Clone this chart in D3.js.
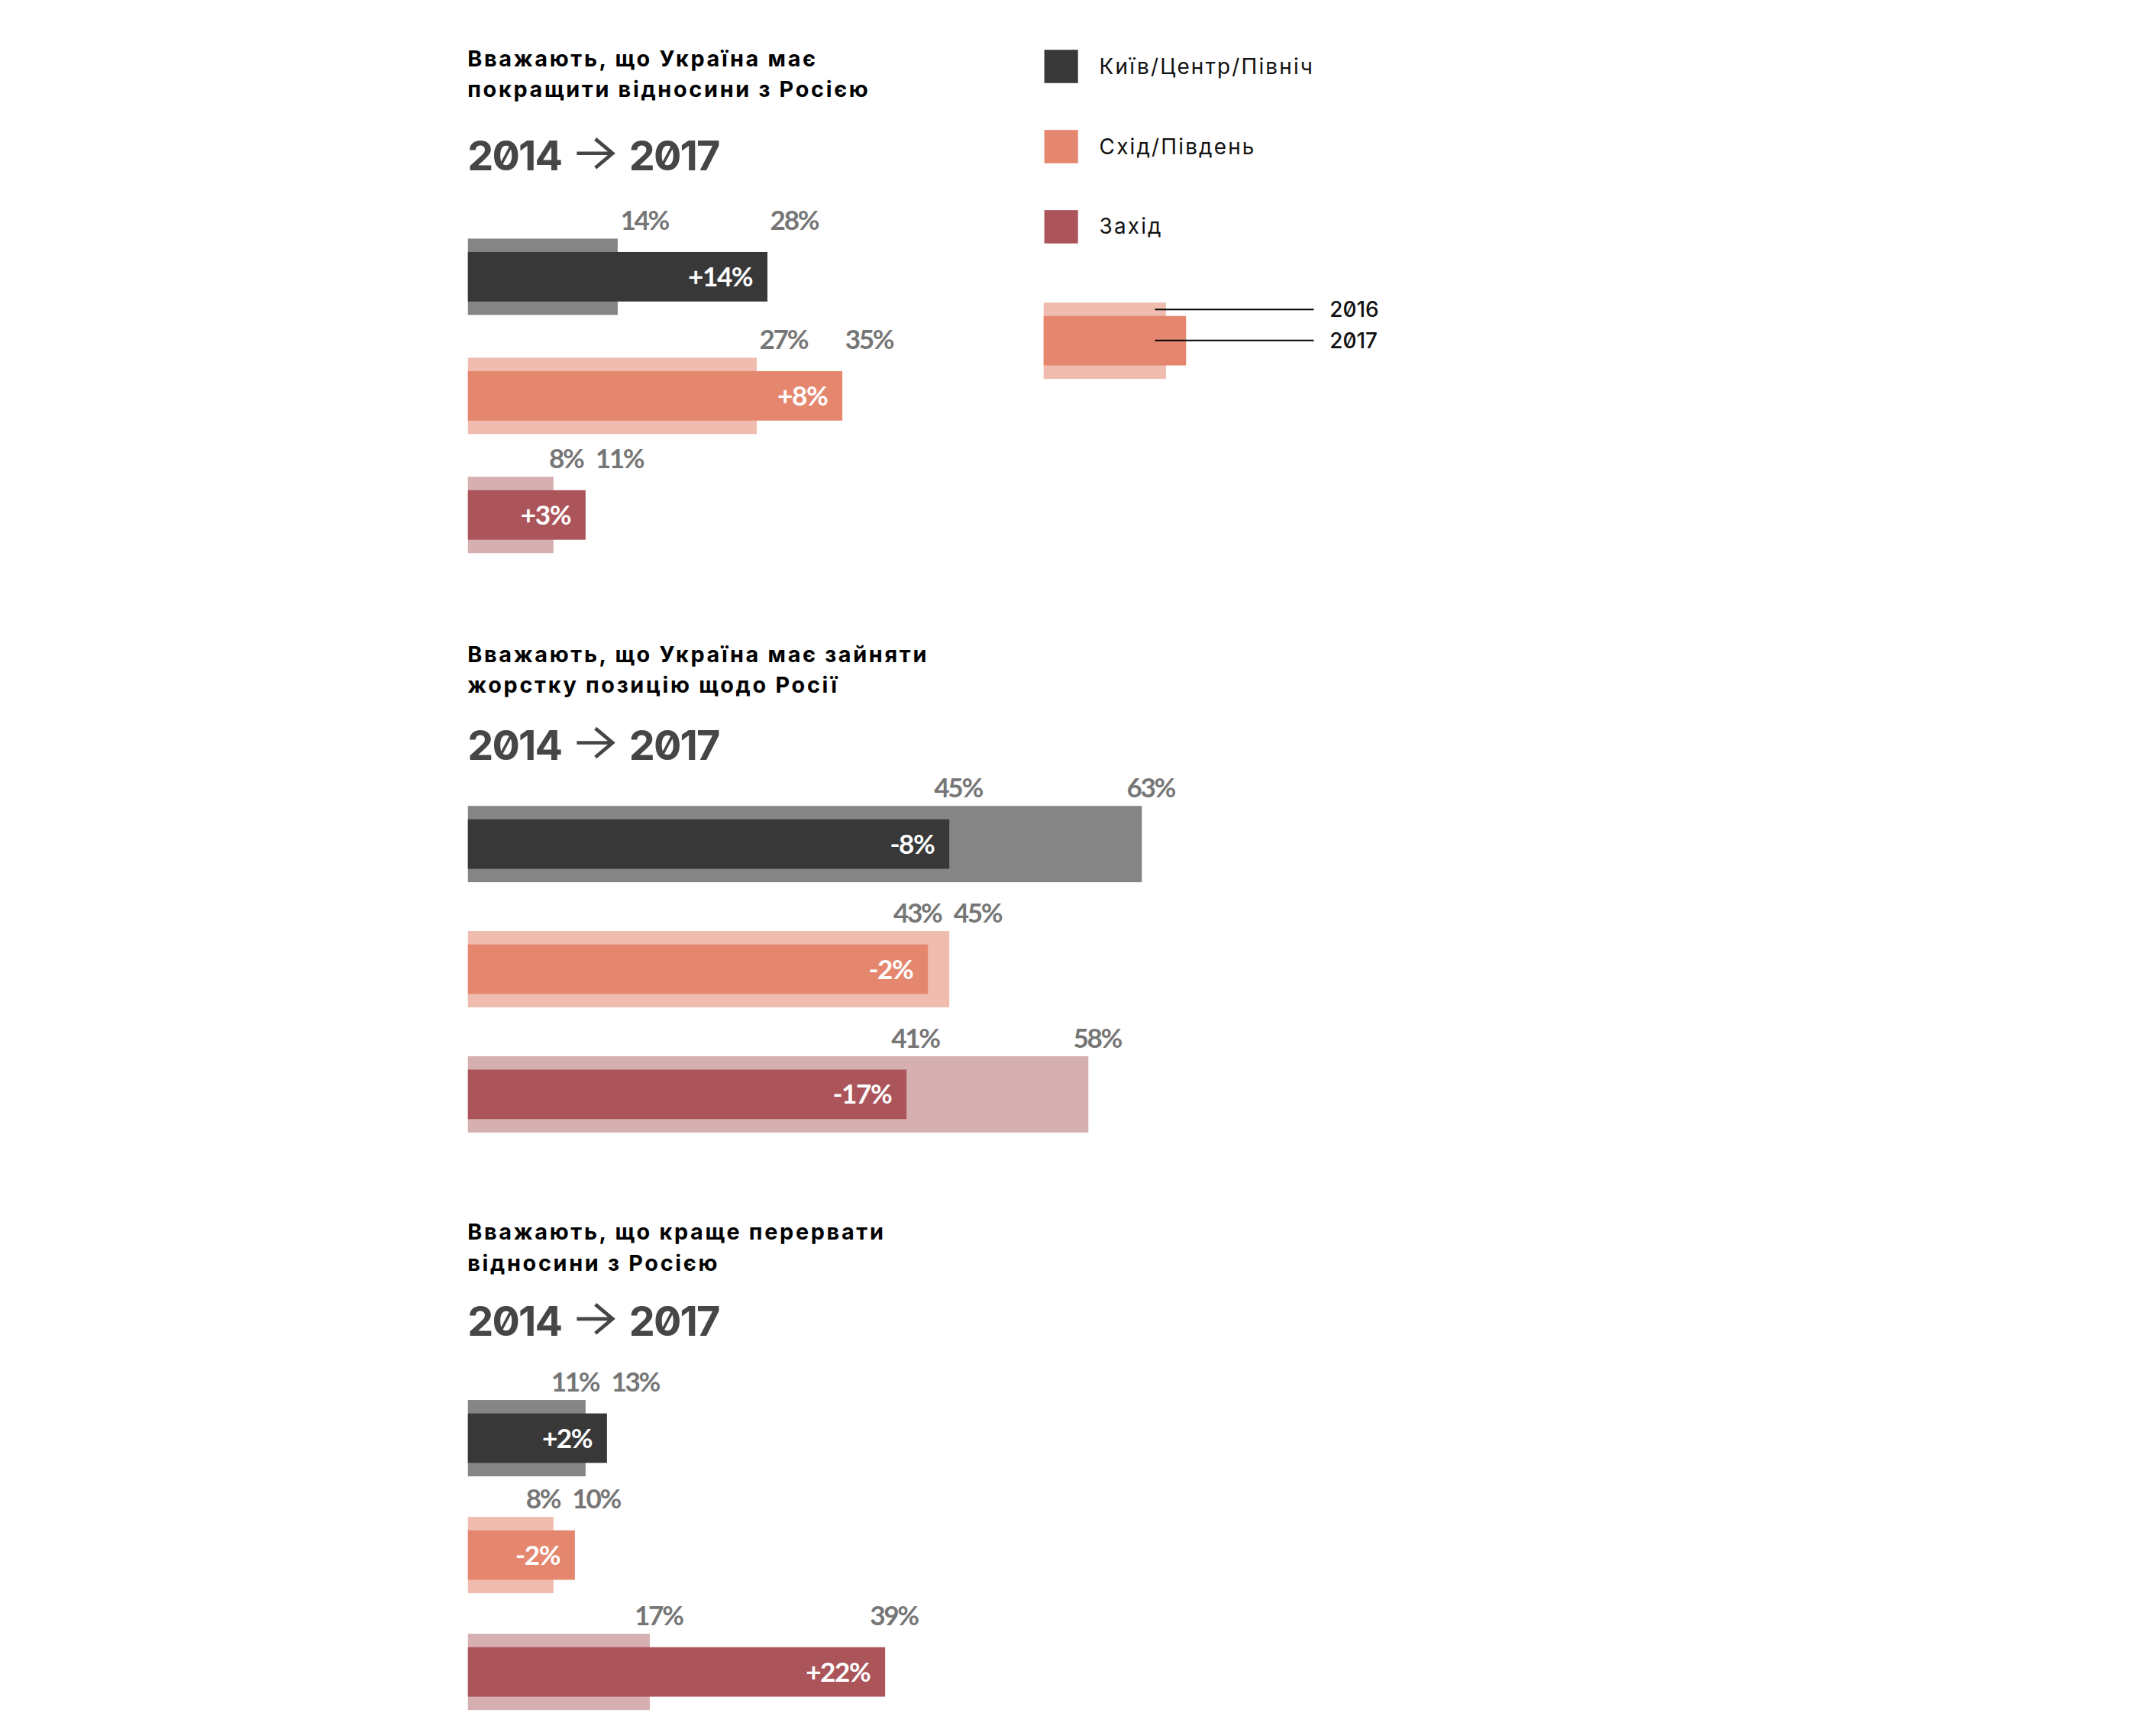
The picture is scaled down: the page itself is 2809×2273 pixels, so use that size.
<!DOCTYPE html>
<html>
<head>
<meta charset="UTF-8">
<title>Ставлення до Росії за регіонами</title>
<script src="https://cdn.jsdelivr.net/npm/d3@7"></script>
<style>
  html, body { margin: 0; padding: 0; background: #fff; }
  svg { display: block; }
  .title { font-family: Inter, "Noto Sans", sans-serif; font-weight: 700; fill: #000; }
  .years { font-family: Inter, "Noto Sans", sans-serif; font-weight: 700; fill: #464646; font-feature-settings: "zero" 1; }
  .val { font-family: Lato, "Open Sans", sans-serif; font-weight: 700; fill: #767676; }
  .chg { font-family: Lato, "Open Sans", sans-serif; font-weight: 700; fill: #fff; }
  .legend { font-family: Inter, "Noto Sans", sans-serif; fill: #111; font-feature-settings: "zero" 1; }
</style>
</head>
<body>
<svg id="chart"></svg>
<script>
// regions (legend order = row order)
var regions = ["Київ/Центр/Північ", "Схід/Південь", "Захід"];
var colors2017 = ["#383838", "#e5876f", "#ab545a"];
var colors2016 = ["#858585", "#efbcaf", "#d6afb1"];

var headingYears = ["2014", "2017"];
var keyYears = ["2016", "2017"];

var titles = [
    ["Вважають, що Україна має", "покращити відносини з Росією"],
    ["Вважають, що Україна має зайняти", "жорстку позицію щодо Росії"],
    ["Вважають, що краще перервати", "відносини з Росією"]
];

// values in %
var improve2016 = [14, 27, 8];
var improve2017 = [28, 35, 11];
var improveChange = [14, 8, 3];

var tough2016 = [63, 45, 58];
var tough2017 = [45, 43, 41];
var toughChange = [-8, -2, -17];

var breakOff2016 = [11, 8, 17];
var breakOff2017 = [13, 10, 39];
var breakOffChange = [2, -2, 22];

var W = 2809, H = 2273, k = W / 1560;

var svg = d3.select("#chart")
    .attr("width", W).attr("height", H)
    .attr("viewBox", "0 0 1560 " + (H / k));

var x = d3.scaleLinear().domain([0, 100]).range([340.3, 340.3 + 778]);

var barH = 55.5, innerH = 36, inset = (barH - innerH) / 2;

// layout of the three blocks
var blocks = [
    {title: titles[0], v16: improve2016, v17: improve2017, chg: improveChange,
     titleY: 48.1, yearY: 124, rowTop: 173.5, step: 86.6, lblOff: 2},
    {title: titles[1], v16: tough2016, v17: tough2017, chg: toughChange,
     titleY: 481.3, yearY: 552.6, rowTop: 586, step: 91, lblOff: -11},
    {title: titles[2], v16: breakOff2016, v17: breakOff2017, chg: breakOffChange,
     titleY: 901.5, yearY: 971.5, rowTop: 1018, step: 85, lblOff: -11}
];

function fmtChange(v) {
    return (v > 0 ? "+" : "") + v + "%";
}

blocks.forEach(function (b) {
    var g = svg.append("g");

    g.selectAll("text.title").data(b.title).enter().append("text")
        .attr("class", "title")
        .attr("x", 340)
        .attr("y", function (d, i) { return b.titleY + i * 22.4; })
        .style("font-size", "16px")
        .style("letter-spacing", "1.5px")
        .text(function (d) { return d; });

    // 2014 -> 2017
    g.append("text").attr("class", "years")
        .attr("x", 340).attr("y", b.yearY)
        .style("font-size", "30px").style("letter-spacing", "-1px")
        .text(headingYears[0]);
    g.append("text").attr("class", "years")
        .attr("x", 457.5).attr("y", b.yearY)
        .style("font-size", "30px").style("letter-spacing", "-1px")
        .text(headingYears[1]);
    var ay = b.yearY - 12.5;
    g.append("path")
        .attr("d", "M419.5," + ay + "H445.5M433," + (ay - 10.5) + "L445.5," + ay + "L433," + (ay + 10.5))
        .attr("fill", "none").attr("stroke", "#464646").attr("stroke-width", 2.6);

    var rows = regions.map(function (r, i) {
        return {region: r, i: i, v16: b.v16[i], v17: b.v17[i], chg: b.chg[i]};
    });
    var y = function (i) { return b.rowTop + i * b.step; };

    var row = g.selectAll("g.row").data(rows).enter().append("g").attr("class", "row");

    row.append("rect")
        .attr("x", x(0)).attr("y", function (d) { return y(d.i); })
        .attr("width", function (d) { return x(d.v16) - x(0); })
        .attr("height", barH)
        .attr("fill", function (d) { return colors2016[d.i]; });

    row.append("rect")
        .attr("x", x(0)).attr("y", function (d) { return y(d.i) + inset; })
        .attr("width", function (d) { return x(d.v17) - x(0); })
        .attr("height", innerH)
        .attr("fill", function (d) { return colors2017[d.i]; });

    row.append("text").attr("class", "chg")
        .attr("x", function (d) { return x(d.v17) - 11; })
        .attr("y", function (d) { return y(d.i) + barH / 2 + 7; })
        .attr("text-anchor", "end")
        .style("font-size", "19.5px").style("letter-spacing", "-0.8px")
        .text(function (d) { return fmtChange(d.chg); });

    // value labels above the bars, pushed apart when they collide
    row.each(function (d) {
        var r = d3.select(this);
        var labels = [d.v16, d.v17].map(function (v) {
            var t = r.append("text").attr("class", "val")
                .attr("y", y(d.i) - 6.3)
                .style("font-size", "19.5px").style("letter-spacing", "-1.3px")
                .text(v + "%");
            var w = t.node().getComputedTextLength();
            return {t: t, v: v, x0: x(v) + b.lblOff, w: w};
        });
        labels.sort(function (a, c) { return a.v - c.v; });
        var L = labels[0], R = labels[1], gap = 9;
        var over = L.x0 + L.w + gap - R.x0;
        if (over > 0) { L.x0 -= over / 2; R.x0 += over / 2; }
        labels.forEach(function (l) { l.t.attr("x", l.x0); });
    });
});

// legend
var lg = svg.append("g");
lg.selectAll("rect.sw").data(regions).enter().append("rect")
    .attr("x", 759.5).attr("y", function (d, i) { return 36.2 + i * 58.3; })
    .attr("width", 24.5).attr("height", 24.2)
    .attr("fill", function (d, i) { return colors2017[i]; });
lg.selectAll("text.lab").data(regions).enter().append("text")
    .attr("class", "legend")
    .attr("x", 799.5).attr("y", function (d, i) { return 53.8 + i * 58.2; })
    .style("font-size", "15.5px").style("letter-spacing", "1.2px")
    .text(function (d) { return d; });

// key: light = 2016, dark = 2017
lg.append("rect").attr("x", 759).attr("y", 220).attr("width", 89).attr("height", barH).attr("fill", colors2016[1]);
lg.append("rect").attr("x", 759).attr("y", 220 + inset).attr("width", 103.6).attr("height", innerH).attr("fill", colors2017[1]);
lg.selectAll("line.k").data(keyYears).enter().append("line")
    .attr("x1", 840).attr("x2", 955.5)
    .attr("y1", function (d, i) { return 225 + i * 22.6; })
    .attr("y2", function (d, i) { return 225 + i * 22.6; })
    .attr("stroke", "#000").attr("stroke-width", 1.1);
lg.selectAll("text.k").data(keyYears).enter().append("text")
    .attr("class", "legend")
    .attr("x", 967).attr("y", function (d, i) { return 230.6 + i * 22.6; })
    .style("font-size", "15.5px").style("font-weight", 500)
    .text(function (d) { return d; });
</script>
</body>
</html>
